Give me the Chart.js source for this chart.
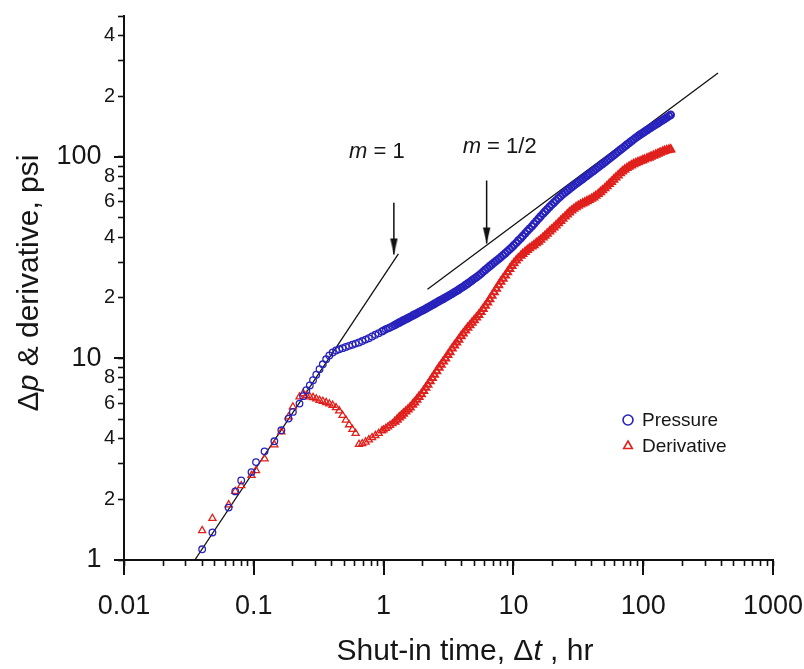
<!DOCTYPE html>
<html><head><meta charset="utf-8">
<script src="https://cdn.jsdelivr.net/npm/chart.js@4.4.1/dist/chart.umd.min.js"></script>
<style>html,body{margin:0;padding:0;background:#fff}canvas{display:block}</style>
</head><body>
<canvas id="c" width="804" height="669"></canvas>
<script>
// ---------- data ----------
const shutInTimes = [0.040,0.048,0.064,0.072,0.080,0.096,0.104,0.121,0.144,0.163,0.185,0.200,0.225,
0.240,0.254,0.270,0.286,0.303,0.321,0.340,0.361,0.382,0.405,0.430,0.455,0.483,0.512,0.542,0.575,0.609,0.646,0.685,0.726,0.769,0.815,0.864,0.916,0.971,
1.00,1.04,1.08,1.12,1.17,1.22,1.27,1.32,1.37,1.42,
1.48,1.54,1.60,1.67,1.73,1.80,1.87,1.95,2.03,2.11,
2.19,2.28,2.37,2.46,2.56,2.67,2.77,2.88,3.00,3.12,
3.24,3.37,3.51,3.65,3.79,3.95,4.10,4.27,4.44,4.62,
4.80,4.99,5.19,5.40,5.62,5.84,6.07,6.32,6.57,6.83,
7.11,7.39,7.69,7.99,8.31,8.65,9.00,9.36,9.73,10.1,
10.5,10.9,11.4,11.8,12.3,12.8,13.3,13.9,14.4,15.0,
15.6,16.2,16.9,17.5,18.2,19.0,19.7,20.5,21.3,22.2,
23.1,24.0,25.0,26.0,27.0,28.1,29.2,30.4,31.6,32.9,
34.2,35.5,36.9,38.4,40.0,41.6,43.2,45.0,46.8,48.6,
50.6,52.6,54.7,56.9,59.2,61.5,64.0,66.6,69.2,72.0,
74.9,77.9,81.0,84.2,87.6,91.1,94.7,98.5,102,107,
111,115,120,125,130,135,141,146,152,158,
163];

const pressure = [1.13,1.37,1.82,2.19,2.48,2.73,3.06,3.46,3.88,4.40,5.03,5.43,5.97,
6.5,6.96,7.35,7.8,8.3,8.85,9.35,9.9,10.35,10.7,10.95,11.1,11.25,11.4,11.55,11.7,11.85,12.0,12.2,12.4,12.6,12.85,13.1,13.35,13.6,
13.75,13.95,14.1,14.25,14.45,14.65,14.85,15.05,15.25,15.45,
15.65,15.85,16.05,16.3,16.5,16.7,16.95,17.2,17.4,17.65,
17.9,18.15,18.4,18.65,18.95,19.25,19.5,19.75,20.05,20.35,
20.65,20.95,21.3,21.6,21.95,22.35,22.7,23.1,23.5,23.95,
24.4,24.85,25.3,25.8,26.3,26.9,27.5,28.1,28.7,29.3,
29.9,30.5,31.15,31.8,32.5,33.2,34.0,34.8,35.6,36.5,
37.4,38.4,39.5,40.5,41.7,42.9,44.0,45.3,46.5,47.9,
49.3,50.7,52.2,53.5,54.9,56.5,57.9,59.3,60.8,62.3,
63.8,65.2,66.6,68.0,69.4,70.8,72.1,73.5,74.9,76.4,
77.8,79.2,80.7,82.2,83.9,85.5,87.1,88.9,90.6,92.3,
94.1,95.9,97.8,99.8,101.9,104.0,106.1,108.3,110.4,112.7,
115.0,117.3,119.6,122.0,124.4,126.7,128.9,131.1,133.1,135.8,
137.8,139.9,142.4,144.8,147.1,149.4,152.0,154.2,156.8,159.4,
161.6];

const derivative = [1.40,1.61,1.88,2.19,2.34,2.63,2.78,3.18,3.73,4.32,5.13,5.75,6.45,
6.7,6.55,6.45,6.4,6.3,6.2,6.13,6.05,5.95,5.86,5.7,5.5,5.22,4.95,4.69,4.45,4.25,3.75,3.78,3.85,3.95,4.05,4.15,4.25,4.38,
4.42,4.5,4.58,4.66,4.75,4.85,4.97,5.1,5.2,5.32,
5.45,5.58,5.72,5.9,6.05,6.25,6.45,6.65,6.9,7.15,
7.4,7.7,8.0,8.3,8.65,9.0,9.3,9.65,10.0,10.4,
10.75,11.2,11.6,12.0,12.4,12.9,13.3,13.75,14.2,14.6,
15.05,15.5,15.95,16.45,17.0,17.6,18.25,18.95,19.7,20.45,
21.3,22.2,23.1,24.0,24.9,25.8,26.8,27.8,28.8,29.7,
30.6,31.4,32.3,33.0,33.8,34.5,35.2,35.9,36.5,37.3,
38.0,38.8,39.8,40.6,41.6,42.7,43.6,44.6,45.7,46.9,
48.1,49.3,50.6,51.8,53.0,54.2,55.3,56.3,57.2,58.0,
58.8,59.5,60.3,61.1,62.0,63.0,64.1,65.4,66.8,68.3,
69.9,71.6,73.4,75.2,77.1,79.0,81.0,82.9,84.7,86.5,
88.0,89.5,90.8,92.0,93.1,94.1,95.1,96.1,97.0,98.2,
99.2,100.2,101.4,102.6,103.8,104.9,106.1,107.1,108.0,108.6,
109.0];

const unitSlopeX = [0.0351, 1.30];
const unitSlopeY = [1.0, 33.0];
const halfSlopeX = [2.18, 377];
const halfSlopeY = [22.05, 261];
const arrow1X = [1.2, 1.2];
const arrow1Y = [59.3, 32.8];
const arrow2X = [6.22, 6.22];
const arrow2Y = [76.3, 37.2];

const xTickValues = [0.01,0.02,0.03,0.04,0.05,0.06,0.07,0.08,0.09,0.1,0.2,0.3,0.4,0.5,0.6,0.7,0.8,0.9,1,2,3,4,5,6,7,8,9,10,20,30,40,50,60,70,80,90,100,200,300,400,500,600,700,800,900,1000];
const xTickLabels = {0.01:'0.01',0.1:'0.1',1:'1',10:'10',100:'100',1000:'1000'};
const yTickValues = [1,2,3,4,5,6,7,8,9,10,20,30,40,50,60,70,80,90,100,200,300,400,500];
const yTickLabels = {1:'1',2:'2',4:'4',6:'6',8:'8',10:'10',20:'2',40:'4',60:'6',80:'8',100:'100',200:'2',400:'4'};
const yMajor = [1,10,100];
const xMajor = [0.01,0.1,1,10,100,1000];

// ---------- rendering ----------
const FONT = '"Liberation Sans", Arial, Helvetica, sans-serif';
const TXT = '#161616';
const BLUE = '#2822bc';
const RED = '#e0201c';

function pts(xs, ys){ return xs.map((x,i)=>({x:x, y:ys[i]})); }
const denseWidth = ctx => (ctx.raw && ctx.raw.x >= 1.2) ? 2.0 : 1.3;

function arrowHead(){
  const c=document.createElement('canvas'); c.width=9; c.height=34;
  const g=c.getContext('2d'); g.fillStyle='#111';
  g.beginPath(); g.moveTo(0.8,1); g.lineTo(8.2,1); g.lineTo(4.5,17); g.closePath(); g.fill();
  return c;
}
const head = arrowHead();

function drawSegments(ctx, segs, size, cx, cy){
  let total = 0;
  segs.forEach(s=>{ ctx.font = (s.i?'italic ':'') + size + 'px ' + FONT; s.w = ctx.measureText(s.t).width; total += s.w; });
  let x = cx - total/2;
  ctx.textBaseline = 'middle'; ctx.textAlign = 'left'; ctx.fillStyle = TXT;
  segs.forEach(s=>{ ctx.font = (s.i?'italic ':'') + size + 'px ' + FONT; ctx.fillText(s.t, x, cy); x += s.w; });
}

const decor = {
  id: 'decor',
  afterDraw(chart){
    const ctx = chart.ctx, xs = chart.scales.x, ys = chart.scales.y, a = chart.chartArea;
    ctx.save();
    // longer major tick marks
    ctx.strokeStyle = '#111'; ctx.lineWidth = 2;
    xMajor.forEach(v=>{ const px = Math.round(xs.getPixelForValue(v)); ctx.beginPath(); ctx.moveTo(px, a.bottom); ctx.lineTo(px, a.bottom+15); ctx.stroke(); });
    yMajor.forEach(v=>{ const py = Math.round(ys.getPixelForValue(v)); ctx.beginPath(); ctx.moveTo(a.left, py); ctx.lineTo(a.left-10, py); ctx.stroke(); });
    // axis titles
    drawSegments(ctx, [{t:'Shut-in time, Δ'},{t:'t',i:true},{t:' , hr'}], 30, 465, 652);
    ctx.save(); ctx.translate(30, 283); ctx.rotate(-Math.PI/2);
    drawSegments(ctx, [{t:'Δ'},{t:'p',i:true},{t:' & derivative, psi'}], 30, 0, 0);
    ctx.restore();
    // slope annotations
    const a1x = xs.getPixelForValue(arrow1X[0]), a1y = ys.getPixelForValue(arrow1Y[0]);
    const a2x = xs.getPixelForValue(arrow2X[0]), a2y = ys.getPixelForValue(arrow2Y[0]);
    drawSegments(ctx, [{t:'m',i:true},{t:' = 1'}], 22, a1x-17, a1y-51);
    drawSegments(ctx, [{t:'m',i:true},{t:' = 1/2'}], 22, a2x+13, a2y-34);
    // legend
    const ds = chart.data.datasets;
    const items = [[0, 420], [1, 446]];
    items.forEach(([i, y])=>{
      const d = ds[i];
      ctx.strokeStyle = d.borderColor; ctx.fillStyle = 'rgba(0,0,0,0)'; ctx.lineWidth = 1.6;
      Chart.helpers.drawPoint(ctx, {pointStyle: d.pointStyle, radius: 5, rotation: 0, borderWidth: 1.6}, 628, y);
      ctx.font = '19px ' + FONT; ctx.fillStyle = TXT; ctx.textBaseline = 'middle'; ctx.textAlign = 'left';
      ctx.fillText(d.label, 642, y+1);
    });
    ctx.restore();
  }
};

new Chart(document.getElementById('c'), {
  type: 'scatter',
  data: {
    datasets: [
      { label: 'Pressure', data: pts(shutInTimes, pressure), pointStyle: 'circle', pointRadius: 3.3, borderWidth: denseWidth,
        borderColor: BLUE, backgroundColor: 'rgba(0,0,0,0)', pointHoverRadius: 3.3 },
      { label: 'Derivative', data: pts(shutInTimes, derivative), pointStyle: 'triangle', pointRadius: 4.1, borderWidth: denseWidth,
        borderColor: RED, backgroundColor: 'rgba(0,0,0,0)', pointHoverRadius: 4.1 },
      { label: 'm=1', data: pts(unitSlopeX, unitSlopeY), showLine: true, pointRadius: 0, borderColor: '#111', borderWidth: 1.3 },
      { label: 'm=1/2', data: pts(halfSlopeX, halfSlopeY), showLine: true, pointRadius: 0, borderColor: '#111', borderWidth: 1.3 },
      { label: 'arrow1', data: pts(arrow1X, arrow1Y), showLine: true, borderColor: '#111', borderWidth: 1.5,
        pointRadius: [0, 5], pointStyle: head, clip: false },
      { label: 'arrow2', data: pts(arrow2X, arrow2Y), showLine: true, borderColor: '#111', borderWidth: 1.5,
        pointRadius: [0, 5], pointStyle: head, clip: false }
    ]
  },
  options: {
    responsive: false, animation: false,
    layout: { padding: { top: 16, right: 31, left: 0, bottom: 0 } },
    plugins: { legend: { display: false }, tooltip: { enabled: false } },
    scales: {
      x: {
        type: 'logarithmic', min: 0.01, max: 1000,
        afterBuildTicks: s => { s.ticks = xTickValues.map(v=>({value: v})); },
        afterFit: s => { s.height = 109; s.paddingLeft = 0; s.paddingRight = 0; },
        ticks: { autoSkip: false, maxRotation: 0, minRotation: 0, padding: 24, color: TXT,
          font: { family: FONT, size: 27 },
          callback: v => xTickLabels[v] !== undefined ? xTickLabels[v] : '' },
        grid: { drawOnChartArea: false, drawTicks: true, tickLength: 6, tickColor: '#111', tickWidth: 1.6 },
        border: { display: true, color: '#111', width: 2 }
      },
      y: {
        type: 'logarithmic', min: 1, max: 500,
        afterBuildTicks: s => { s.ticks = yTickValues.map(v=>({value: v})); },
        afterFit: s => { s.width = 124; s.paddingTop = 0; s.paddingBottom = 0; },
        ticks: { autoSkip: false, padding: 3, color: TXT,
          font: ctx => ({ family: FONT, size: (ctx.tick && yMajor.includes(ctx.tick.value)) ? 27 : 20 }),
          callback: v => yTickLabels[v] !== undefined ? (yMajor.includes(v) ? yTickLabels[v] + '\u2002' : yTickLabels[v]) : '' },
        grid: { drawOnChartArea: false, drawTicks: true, tickLength: 6, tickColor: '#111', tickWidth: 1.6 },
        border: { display: true, color: '#111', width: 2 }
      }
    }
  },
  plugins: [decor]
});
</script>
</body></html>
